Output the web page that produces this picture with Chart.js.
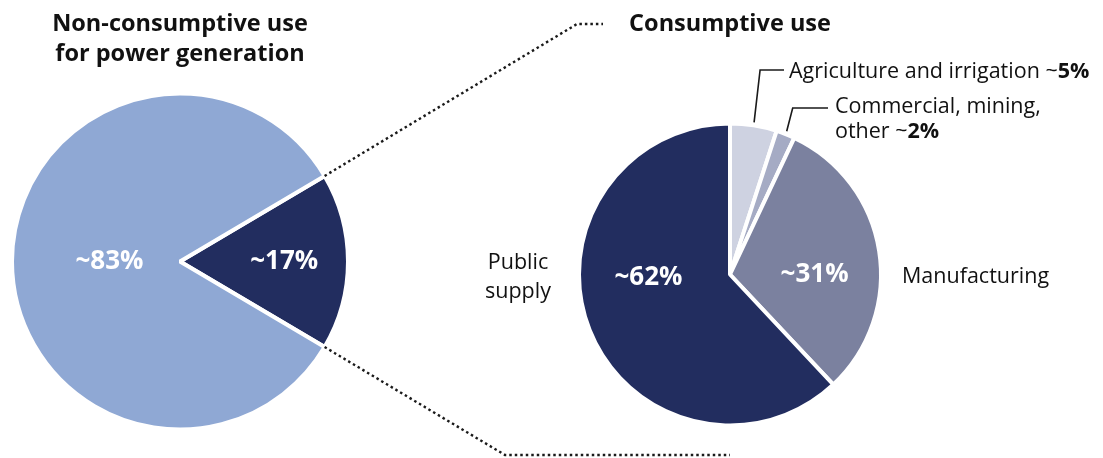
<!DOCTYPE html>
<html lang="en">
<head>
<meta charset="utf-8">
<title>Water use</title>
<script src="https://cdn.jsdelivr.net/npm/chart.js@4.4.1/dist/chart.umd.min.js"></script>
<style>
    html, body { margin: 0; padding: 0; background: #fff; }
    body { font-family: "Open Sans", "Noto Sans", sans-serif; color: #111; }
    #stage { position: relative; width: 1103px; height: 458px; overflow: hidden; }
    #stage canvas { position: absolute; left: 0; top: 0; }
    .txt { position: absolute; white-space: nowrap; }
    .title { font-weight: 700; font-size: 23.5px; line-height: 30px; text-align: center; }
    .label { font-size: 21.5px; line-height: 25px; }
</style>
</head>
<body>
<div id="stage">
    <canvas id="powerChart" width="1103" height="458"></canvas>
    <canvas id="useChart" width="1103" height="458"></canvas>
    <div class="txt title" style="left:20px;top:7px;width:320px">Non-consumptive use<br>for power generation</div>
    <div class="txt title" style="left:600px;top:7px;width:260px">Consumptive use</div>
    <div class="txt label" id="lblAgri" style="left:789px;top:57px"></div>
    <div class="txt label" id="lblOther" style="left:835px;top:92px"></div>
    <div class="txt label" id="lblManu" style="left:902px;top:262px"></div>
    <div class="txt label" id="lblPublic" style="left:473px;top:246px;width:90px;text-align:center;line-height:29px"></div>
</div>
<script>
// ---- data ----
const powerCategories = ['Consumptive use', 'Non-consumptive use for power generation'];
const powerShares = [17, 83];

const useCategories = ['Agriculture and irrigation', 'Commercial, mining, other', 'Manufacturing', 'Public supply'];
const useShares = [5, 2, 31, 62];

// ---- styling ----
const powerColors = ['#222d5f', '#8fa8d4'];
const useColors = ['#ced2e1', '#a5abc4', '#7b819f', '#222d5f'];
const DOT_COLOR = '#1a1a1a';

// white percentage labels inside the slices
const sliceLabels = {
    id: 'sliceLabels',
    afterDatasetsDraw(chart, args, opts) {
        const ctx = chart.ctx;
        const arcs = chart.getDatasetMeta(0).data;
        const values = chart.data.datasets[0].data;
        ctx.save();
        ctx.fillStyle = '#fff';
        ctx.font = 'bold 26px "Open Sans", "Noto Sans", sans-serif';
        ctx.textAlign = 'center';
        ctx.textBaseline = 'middle';
        arcs.forEach((arc, i) => {
            const r = opts.radius[i];
            if (!r) return;
            const a = opts.angle && opts.angle[i] != null
                ? opts.angle[i] * Math.PI / 180
                : (arc.startAngle + arc.endAngle) / 2;
            const x = arc.x + Math.cos(a) * arc.outerRadius * r;
            const y = arc.y + Math.sin(a) * arc.outerRadius * r;
            ctx.fillText('~' + values[i] + '%', x, y);
        });
        ctx.restore();
    }
};

// elbow leader lines for the two thin slices
const leaderLines = {
    id: 'leaderLines',
    afterDraw(chart, args, opts) {
        const ctx = chart.ctx;
        const arcs = chart.getDatasetMeta(0).data;
        ctx.save();
        ctx.strokeStyle = DOT_COLOR;
        ctx.lineWidth = 1.6;
        opts.targets.forEach(t => {
            const arc = arcs[t.index];
            const a = (arc.startAngle + arc.endAngle) / 2;
            const sx = arc.x + Math.cos(a) * (arc.outerRadius + 3);
            const sy = arc.y + Math.sin(a) * (arc.outerRadius + 3);
            ctx.beginPath();
            ctx.moveTo(sx, sy);
            ctx.lineTo(sx + 6, t.y);
            ctx.lineTo(t.x, t.y);
            ctx.stroke();
        });
        ctx.restore();
    }
};

// dotted lines from the left pie's dark slice over to the right pie
const zoomLines = {
    id: 'zoomLines',
    afterDraw(chart, args, opts) {
        const src = Chart.getChart('powerChart');
        if (!src) return;
        const arc = src.getDatasetMeta(0).data[0];
        const dst = chart.getDatasetMeta(0).data[0];
        const top = [arc.x + Math.cos(arc.startAngle) * arc.outerRadius, arc.y + Math.sin(arc.startAngle) * arc.outerRadius];
        const bot = [arc.x + Math.cos(arc.endAngle) * arc.outerRadius, arc.y + Math.sin(arc.endAngle) * arc.outerRadius];
        const ctx = chart.ctx;
        ctx.save();
        ctx.strokeStyle = DOT_COLOR;
        ctx.lineWidth = 2.4;
        ctx.setLineDash([2.5, 3]);
        ctx.beginPath();
        ctx.moveTo(top[0], top[1]);
        ctx.lineTo(opts.topBend, opts.topY);
        ctx.lineTo(opts.topEnd, opts.topY);
        ctx.moveTo(bot[0], bot[1]);
        ctx.lineTo(opts.bottomBend, opts.bottomY);
        ctx.lineTo(dst.x, opts.bottomY);
        ctx.stroke();
        ctx.restore();
    }
};

function pieOptions(padding, rotation, extra) {
    return {
        responsive: false,
        animation: false,
        events: [],
        rotation: rotation,
        layout: { padding: padding },
        plugins: Object.assign({
            legend: { display: false },
            tooltip: { enabled: false }
        }, extra)
    };
}

// left: power generation split, dark slice centred on 3 o'clock
new Chart(document.getElementById('powerChart'), {
    type: 'pie',
    data: {
        labels: powerCategories,
        datasets: [{
            data: powerShares,
            backgroundColor: powerColors,
            borderColor: '#fff',
            borderWidth: 4
        }]
    },
    options: pieOptions(
        { left: 10, right: 753, top: 91, bottom: 26 },
        90 - powerShares[0] * 3.6 / 2,
        { sliceLabels: { radius: [0.62, 0.42] } }
    ),
    plugins: [sliceLabels]
});

// right: breakdown of consumptive use
new Chart(document.getElementById('useChart'), {
    type: 'pie',
    data: {
        labels: useCategories,
        datasets: [{
            data: useShares,
            backgroundColor: useColors,
            borderColor: '#fff',
            borderWidth: 4
        }]
    },
    options: pieOptions(
        { left: 577, right: 220, top: 121, bottom: 30 },
        0,
        {
            sliceLabels: { radius: [0, 0, 0.56, 0.54], angle: [null, null, 0, 178] },
            leaderLines: { targets: [{ index: 0, x: 784, y: 70 }, { index: 1, x: 828, y: 108 }] },
            zoomLines: { topBend: 577, topY: 24, topEnd: 603, bottomBend: 505, bottomY: 455 }
        }
    ),
    plugins: [sliceLabels, leaderLines, zoomLines]
});

// outside labels
const pct = v => '~<b>' + v + '%</b>';
document.getElementById('lblAgri').innerHTML = useCategories[0] + ' ' + pct(useShares[0]);
document.getElementById('lblOther').innerHTML = 'Commercial, mining,<br>other ' + pct(useShares[1]);
document.getElementById('lblManu').textContent = useCategories[2];
document.getElementById('lblPublic').innerHTML = 'Public<br>supply';
</script>
</body>
</html>
